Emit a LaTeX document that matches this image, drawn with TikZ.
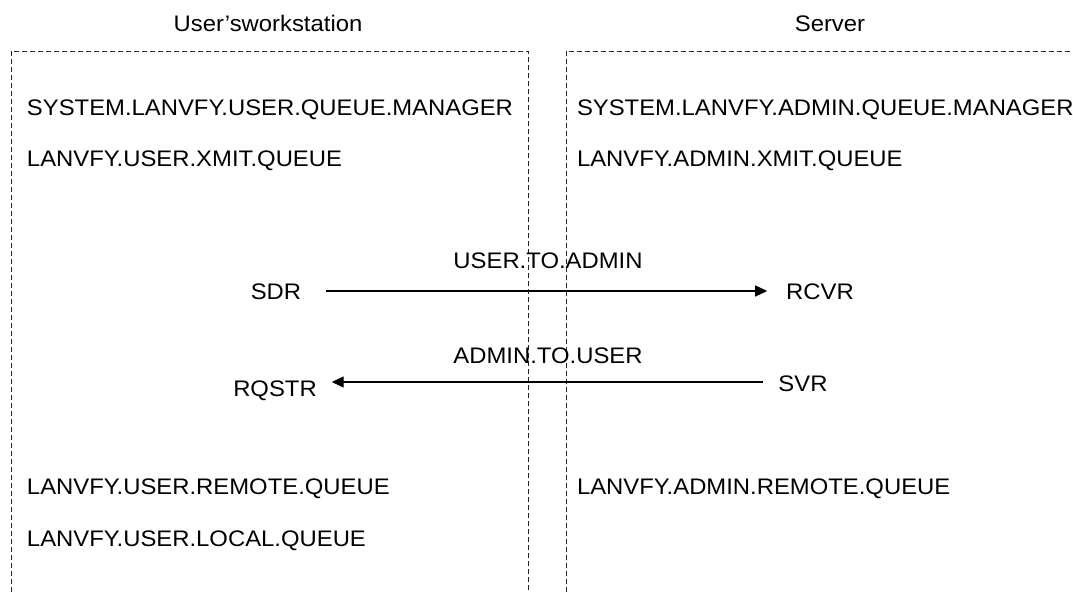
\documentclass[tikz,border=0pt]{standalone}
\usepackage{fontspec}
\setmainfont{Liberation Sans}[FakeStretch=1.06]
\usetikzlibrary{arrows.meta}

\begin{document}
\begin{tikzpicture}[x=1pt,y=-1pt,
  every node/.style={inner sep=0pt, outer sep=0pt,
    font=\fontsize{22.5}{27}\selectfont, text height=16.1pt, text depth=0pt},
  label/.style={anchor=center},
  entry/.style={anchor=west},
  frame/.style={draw=black!85, line width=0.8pt, dash pattern=on 5pt off 3pt},
  channel/.style={draw=black, line width=1.3pt,
    -{Triangle[length=12pt,width=11pt]}}
]
\useasboundingbox (0,0) rectangle (1073,592);

% machine frames, open at the bottom
\draw[frame] (11,592) -- (11,51) -- (528,51) -- (528,592);
\draw[frame] (566,592) -- (566,51) -- (1073,51);

% headings
\node[label] (wsTitle) at (268,23) {User’sworkstation};
\node[label] (srvTitle) at (830,23) {Server};

% workstation objects
\node[entry] (uqm)  at (27,107) {SYSTEM.LANVFY.USER.QUEUE.MANAGER};
\node[entry] (uxq)  at (27,158) {LANVFY.USER.XMIT.QUEUE};
\node[entry] (urq)  at (27,486) {LANVFY.USER.REMOTE.QUEUE};
\node[entry] (ulq)  at (27,538) {LANVFY.USER.LOCAL.QUEUE};

% server objects
\node[entry] (aqm)  at (577,107) {SYSTEM.LANVFY.ADMIN.QUEUE.MANAGER};
\node[entry] (axq)  at (577,158) {LANVFY.ADMIN.XMIT.QUEUE};
\node[entry] (arq)  at (577,486) {LANVFY.ADMIN.REMOTE.QUEUE};

% channels
\node[label] (u2aName) at (548,260) {USER.TO.ADMIN};
\node[label] (sdr)  at (276,291) {SDR};
\node[label] (rcvr) at (820,291) {RCVR};
\draw[channel, shorten <=25pt, shorten >=19pt] (sdr.east) -- (rcvr.west);

\node[label] (a2uName) at (548,355) {ADMIN.TO.USER};
\node[label] (rqstr) at (275,388) {RQSTR};
\node[label] (svr)   at (803,383) {SVR};
\draw[channel, shorten <=15pt, shorten >=15pt] ([yshift=1pt]svr.west) -- ([yshift=1pt]svr.west -| rqstr.east);
\end{tikzpicture}
\end{document}
